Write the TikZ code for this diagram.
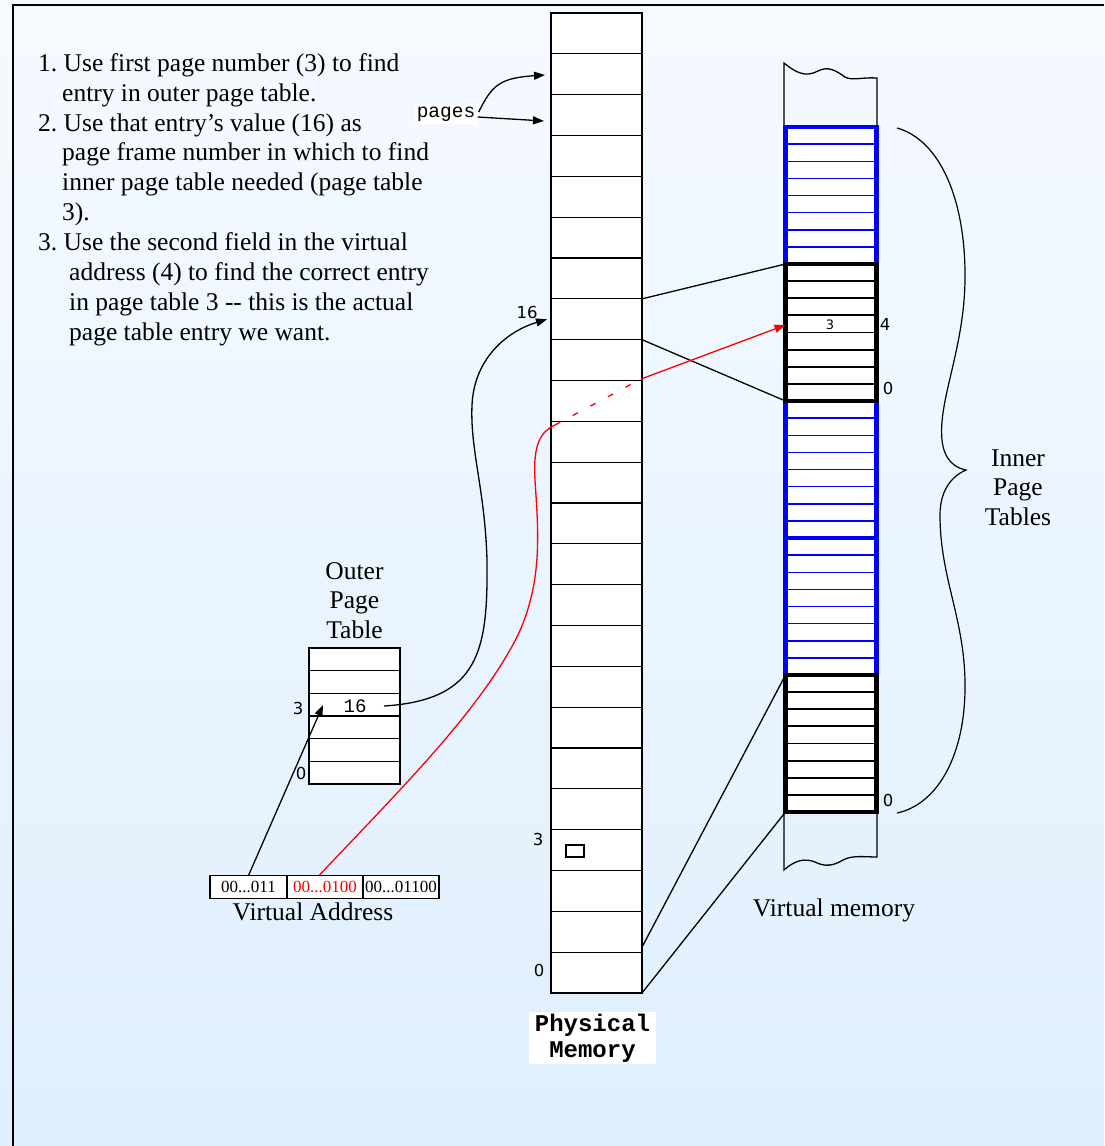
\documentclass[tikz,border=0pt]{standalone}
\usepackage{fontspec}
\setmainfont{Liberation Serif}
\newfontfamily\monofont{Liberation Mono}
\newfontfamily\labelfont{DejaVu Sans}
\usetikzlibrary{arrows.meta,calc}

\definecolor{bgtop}{RGB}{246,250,255}
\definecolor{bgbot}{RGB}{223,239,254}

\begin{document}
\frenchspacing
\begin{tikzpicture}[x=1pt,y=-1pt,
  txt/.style={inner sep=0pt,anchor=base west,font=\fontsize{25.5}{30}\selectfont},
  ctxt/.style={inner sep=0pt,anchor=base,font=\fontsize{25.5}{30}\selectfont},
  lab/.style={inner sep=0pt,font=\labelfont\fontsize{16.5}{16.5}\selectfont},
  memrow/.style={fill=white,minimum width=91pt,minimum height=40.83pt,inner sep=0pt,outer sep=0pt},
  orow/.style={fill=white,minimum width=91pt,minimum height=22.67pt,inner sep=0pt,outer sep=0pt},
  ptab/.style={draw,fill=white,line width=4.5pt,minimum width=91pt,minimum height=137pt,inner sep=0pt,outer sep=0pt},
  vaf/.style={draw,fill=white,line width=1.2pt,minimum height=23pt,inner sep=0pt,outer sep=0pt,font=\fontsize{17}{17}\selectfont},
  tip/.style={-{Triangle[length=11pt,width=8pt]}},
  wire/.style={line width=1.3pt}
]
\useasboundingbox (0,0) rectangle (1104,1146);
\shade[top color=bgtop,bottom color=bgbot] (0,0) rectangle (1104,1146);
\draw[line width=2.2pt] (13,1146) -- (13,5) -- (1104,5);

% explanation text
\node[txt] (t1) at (38,71) {1. Use first page number (3) to find};
\node[txt] (t2) at (62,101) {entry in outer page table.};
\node[txt] (t3) at (38,131) {2. Use that entry’s value (16) as};
\node[txt] (t4) at (62,160) {page frame number in which to find};
\node[txt] (t5) at (62,190) {inner page table needed (page table};
\node[txt] (t6) at (62,220) {3).};
\node[txt] (t7) at (38,250) {3. Use the second field in the virtual};
\node[txt] (t8) at (69,280) {address (4) to find the correct entry};
\node[txt] (t9) at (69,310) {in page table 3 -{}- this is the actual};
\node[txt] (t10) at (69,340) {page table entry we want.};

% physical memory frames
\foreach \i in {0,...,23}
  \node[memrow] (m\i) at (596.5,{993-40.833*(\i+0.5)}) {};
\draw[wire] (m23.north west) rectangle (m0.south east);
\foreach \i in {1,...,23}
  \draw[wire] (m\i.south west) -- (m\i.south east);
\node[draw,fill=white,line width=1.2pt,minimum width=18pt,minimum height=12pt,inner sep=0pt] (blk) at (575,851) {};
\node[lab] (l16) at (527,312) {16};
\node[lab] (l3) at (538,839) {3};
\node[lab] (l0) at (539,970) {0};
\node[fill=white,minimum width=127pt,minimum height=52pt,inner sep=0pt,align=center,
      font=\monofont\bfseries\fontsize{24}{26}\selectfont] (pm) at (592.5,1038) {Physical\\Memory};

% "pages" pointer
\node[fill=white,inner sep=1pt,minimum width=63pt,minimum height=20pt,font=\monofont\fontsize{19.5}{20}\selectfont] (pages) at (446,114) {pages};
\coordinate (pg1) at (545,75);
\coordinate (pg2) at (544,121);
\draw[wire,tip] ($(pages.east)+(1,-2)$) .. controls (492,85) and (500,78) .. (pg1);
\draw[wire,tip] ($(pages.east)+(0,3)$) -- (pg2);

% virtual memory strip
\draw[wire] (784,127) -- (784,63) .. controls (795,72) and (805,78) .. (818,71)
  .. controls (828,66) and (835,70) .. (845,77) .. controls (852,81) and (862,77) .. (877,78) -- (877,127);
\draw[wire] (784,812) -- (784,870) .. controls (795,860) and (805,858) .. (815,862)
  .. controls (825,867) and (833,866) .. (843,860) .. controls (852,855) and (865,857) .. (877,857) -- (877,812);

% inner page tables
\node[ptab,draw=blue] (ib1) at (831,195.5) {};
\node[ptab,draw=blue] (ib2) at (831,469.5) {};
\node[ptab,draw=blue] (ib3) at (831,606.5) {};
\foreach \t in {ib1,ib2,ib3}
  \foreach \k in {1,...,7}
    \draw[blue,line width=1.5pt] ($(\t.north west)!\k/8!(\t.south west)$) -- ($(\t.north east)!\k/8!(\t.south east)$);
\node[ptab] (k1) at (831,332.5) {};
\node[ptab] (k2) at (831,743.5) {};
\foreach \t in {k1,k2}
  \foreach \k in {1,...,7}
    \draw[line width=1.8pt] ($(\t.north west)!\k/8!(\t.south west)$) -- ($(\t.north east)!\k/8!(\t.south east)$);
\node[inner sep=0pt,font=\labelfont\fontsize{13}{13}\selectfont] (e3) at (830,325) {3};
\node[lab] (k1i4) at (885,324) {4};
\node[lab] (k1i0) at (888,388) {0};
\node[lab] (k2i0) at (888,800) {0};

% frames holding the two inner tables
\draw[wire] (m16.north east) -- (k1.north west);
\draw[wire] (m16.south east) -- (k1.south west);
\draw[wire] ($(m0.north east)+(0,-5)$) -- (k2.north west);
\draw[wire] (m0.south east) -- (k2.south west);

% brace and label
\draw[line width=1.2pt] (897,128) .. controls (940,140) and (966,200) .. (965,280)
  .. controls (964,350) and (938,400) .. (942,440)
  .. controls (944,460) and (955,468) .. (966,470)
  .. controls (952,476) and (940,490) .. (940,515)
  .. controls (940,580) and (966,620) .. (965,690)
  .. controls (964,760) and (935,805) .. (897,813);
\node[ctxt] (ipt1) at (1018,466) {Inner};
\node[ctxt] (ipt2) at (1018,495) {Page};
\node[ctxt] (ipt3) at (1018,525) {Tables};
\node[ctxt] (vm) at (834,916) {Virtual memory};

% outer page table
\node[ctxt] (opt1) at (354.5,579) {Outer};
\node[ctxt] (opt2) at (354.5,608) {Page};
\node[ctxt] (opt3) at (354.5,638) {Table};
\foreach \i in {0,...,5}
  \node[orow] (o\i) at (354.5,{784-22.667*(\i+0.5)}) {};
\draw[wire] (o5.north west) rectangle (o0.south east);
\foreach \i in {1,...,5}
  \draw[wire] (o\i.south west) -- (o\i.south east);
\node[inner sep=0pt,font=\monofont\fontsize{19}{19}\selectfont] (o16) at (355,706) {16};
\node[lab] (o3l) at (298,708) {3};
\node[lab] (o0l) at (301,773) {0};
\coordinate (c16) at (384,706);
\coordinate (o3in) at (323,705);

% virtual address
\node[vaf,minimum width=77pt] (va1) at (248.5,887) {00...011};
\node[vaf,minimum width=76pt,text=red] (va2) at (325,887) {00...0100};
\node[vaf,minimum width=76pt] (va3) at (401,887) {00...01100};
\node[ctxt] (vat) at (313,920) {Virtual Address};

% lookups
\draw[wire,tip] (va1.north) -- (o3in);
\draw[wire,tip] (c16) .. controls (480,700) and (488,650) .. (487,560)
  .. controls (485,490) and (470,450) .. (472,405)
  .. controls (474,360) and (505,332) .. ($(m16.west)+(-4,0)$);
\coordinate (r1) at (555,425);
\coordinate (r2) at (641,379);
\draw[red,wire] ([xshift=-6pt]va2.north) .. controls (400,790) and (470,720) .. (510,650)
  .. controls (545,590) and (538,530) .. (535,480)
  .. controls (533,445) and (540,432) .. (r1);
\draw[red,wire,dash pattern=on 6pt off 14pt] (r1) -- (r2);
\draw[red,wire,tip] (r2) -- (k1.west |- e3);
\end{tikzpicture}
\end{document}
